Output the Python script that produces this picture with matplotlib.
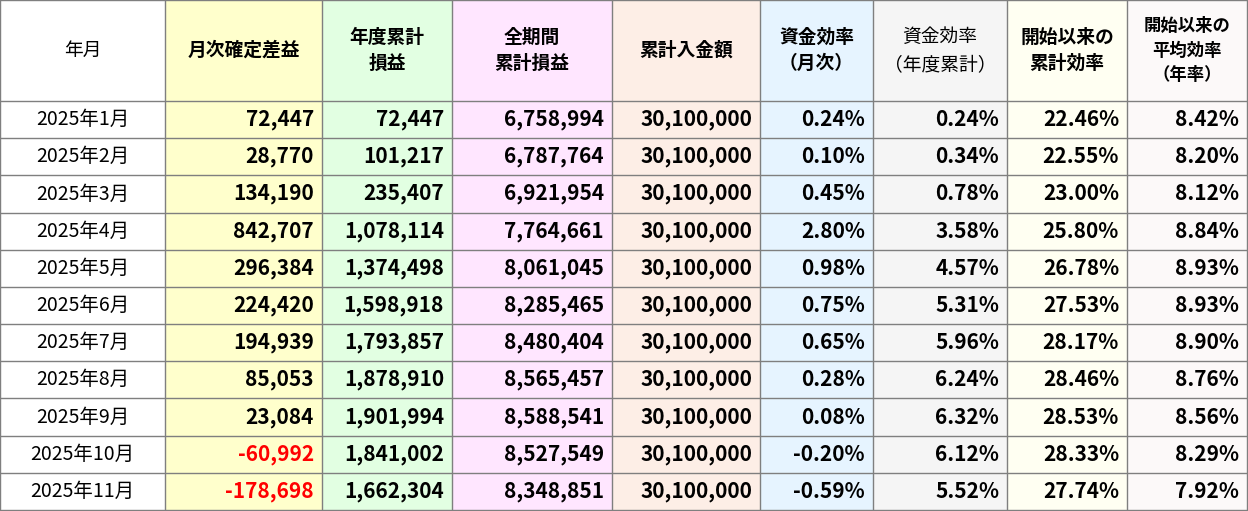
import matplotlib
matplotlib.use("Agg")
import matplotlib.pyplot as plt
from matplotlib.patches import Rectangle

plt.rcParams['font.family'] = ['Noto Sans CJK JP', 'DejaVu Sans']

headers = ["年月", "月次確定差益", "年度累計\n損益", "全期間\n累計損益", "累計入金額",
           "資金効率\n（月次）", "資金効率\n（年度累計）", "開始以来の\n累計効率", "開始以来の\n平均効率\n（年率）"]
header_bold = [False, True, True, True, True, True, False, True, True]
months = ["2025年%d月" % m for m in range(1, 12)]
monthly = [72447, 28770, 134190, 842707, 296384, 224420, 194939, 85053, 23084, -60992, -178698]
fy_total = [72447, 101217, 235407, 1078114, 1374498, 1598918, 1793857, 1878910, 1901994, 1841002, 1662304]
all_total = [6758994, 6787764, 6921954, 7764661, 8061045, 8285465, 8480404, 8565457, 8588541, 8527549, 8348851]
deposit = [30100000] * 11
eff_month = [0.24, 0.10, 0.45, 2.80, 0.98, 0.75, 0.65, 0.28, 0.08, -0.20, -0.59]
eff_fy = [0.24, 0.34, 0.78, 3.58, 4.57, 5.31, 5.96, 6.24, 6.32, 6.12, 5.52]
eff_cum = [22.46, 22.55, 23.00, 25.80, 26.78, 27.53, 28.17, 28.46, 28.53, 28.33, 27.74]
eff_year = [8.42, 8.20, 8.12, 8.84, 8.93, 8.93, 8.90, 8.76, 8.56, 8.29, 7.92]

col_x = [0, 165, 322, 452, 612, 760, 873, 1007, 1127, 1247]
col_bg = ["white", "#FFFFCC", "#E2FFE2", "#FFE6FF", "#FDEEE6", "#E6F4FF", "#F5F5F5", "#FFFFF2", "#FCF9F9"]
W, H = 1248, 511
head_h = 101
row_h = (H - 1 - head_h) / 11

fig = plt.figure(figsize=(W / 100, H / 100), dpi=100)
ax = fig.add_axes([0, 0, 1, 1])
ax.set_xlim(0, W)
ax.set_ylim(H, 0)
ax.axis('off')

for i in range(9):
    ax.add_patch(Rectangle((col_x[i], 0), col_x[i + 1] - col_x[i], H, color=col_bg[i], lw=0))
    ax.text((col_x[i] + col_x[i + 1]) / 2, head_h / 2, headers[i], ha='center', va='center',
            fontsize=13.5 if i < 8 else 12.5,
            fontweight='bold' if header_bold[i] else 'normal', linespacing=1.45)

for x in col_x:
    ax.plot([x, x], [0, H], color='#7F7F7F', lw=1)
ax.plot([0, W], [0, 0], color='#7F7F7F', lw=1)
for r in range(12):
    y = head_h + r * row_h
    ax.plot([0, W], [y, y], color='#7F7F7F', lw=1)

for r in range(11):
    yc = head_h + (r + 0.5) * row_h
    vals = ["{:,}".format(monthly[r]), "{:,}".format(fy_total[r]), "{:,}".format(all_total[r]),
            "{:,}".format(deposit[r]), "%.2f%%" % eff_month[r], "%.2f%%" % eff_fy[r],
            "%.2f%%" % eff_cum[r], "%.2f%%" % eff_year[r]]
    ax.text((col_x[0] + col_x[1]) / 2, yc, months[r], ha='center', va='center', fontsize=14)
    for c, v in enumerate(vals, start=1):
        color = 'red' if v.startswith('-') and c == 1 else 'black'
        ax.text(col_x[c + 1] - 8, yc, v, ha='right', va='center', fontsize=15,
                fontweight='bold', color=color)

fig.savefig("out.png", dpi=100)
